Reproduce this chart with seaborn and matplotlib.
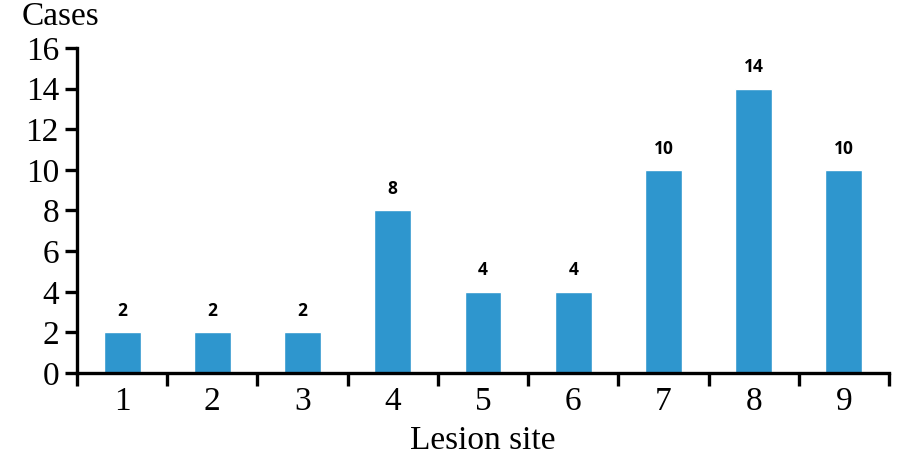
import matplotlib
matplotlib.use("Agg")
import matplotlib.pyplot as plt
import seaborn as sns
import pandas as pd
from matplotlib.ticker import FixedLocator

sites = ["1", "2", "3", "4", "5", "6", "7", "8", "9"]
cases = [2, 2, 2, 8, 4, 4, 10, 14, 10]
y_ticks = [0, 2, 4, 6, 8, 10, 12, 14, 16]

df = pd.DataFrame({"site": sites, "cases": cases})

sns.set_style("white")
plt.rcParams["font.family"] = ["Liberation Serif", "DejaVu Serif"]
plt.rcParams["text.color"] = "black"
plt.rcParams["xtick.color"] = "black"
plt.rcParams["ytick.color"] = "black"
plt.rcParams["axes.labelcolor"] = "black"

fig = plt.figure(figsize=(9.03, 4.69), dpi=100)
ax = fig.add_axes([77/903, 96/469, 812/903, 325/469])

sns.barplot(data=df, x="site", y="cases", color="#2E96CE", width=0.41,
            saturation=1, ax=ax)

ax.set_xlim(-0.5, len(sites) - 0.5)
ax.set_ylim(0, 16)
ax.set_yticks(y_ticks)
ax.set_yticklabels([str(t) for t in y_ticks], fontsize=24)
ax.set_xticks(range(len(sites)))
ax.set_xticklabels(sites, fontsize=24)
ax.xaxis.set_minor_locator(FixedLocator([i - 0.5 for i in range(len(sites) + 1)]))
ax.tick_params(axis="x", which="major", bottom=True, length=0, pad=10)
ax.tick_params(axis="x", which="minor", bottom=True, length=9, width=2.4,
               direction="out", color="black")
ax.tick_params(axis="y", which="major", left=True, length=9, width=2.4,
               direction="out", color="black", pad=4)

for s in ["top", "right"]:
    ax.spines[s].set_visible(False)
for s in ["left", "bottom"]:
    ax.spines[s].set_linewidth(2.4)
    ax.spines[s].set_color("black")

for i, v in enumerate(cases):
    ax.text(i, v + 1.05, str(v), ha="center", va="center", fontsize=12.5,
            fontweight="bold", color="black", family=["Open Sans", "DejaVu Sans"])

ax.set_xlabel("Lesion site", fontsize=24, labelpad=6, color="black")
ax.set_ylabel("")
fig.text(22/903, 1 - 17/469, "Cases", fontsize=24, ha="left", va="center", color="black")

fig.savefig("out.png", dpi=100)
